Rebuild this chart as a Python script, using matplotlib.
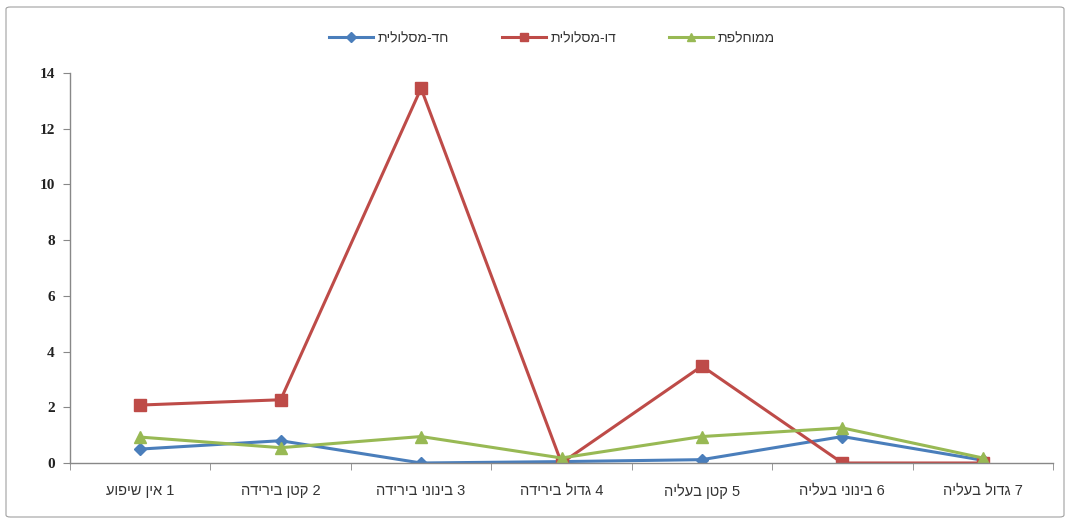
import numpy as np
import matplotlib.pyplot as plt
from matplotlib.patches import FancyBboxPatch

# category labels (logical order, Hebrew)
categories = ['1 אין שיפוע', '2 קטן בירידה', '3 בינוני בירידה', '4 גדול בירידה',
              '5 קטן בעליה', '6 בינוני בעליה', '7 גדול בעליה']
series_names = ['חד-מסלולית', 'דו-מסלולית', 'ממוחלפת']

single_lane = [0.5, 0.8, 0.0, 0.05, 0.12, 0.95, 0.1]
double_lane = [2.08, 2.27, 13.45, 0.0, 3.48, 0.0, 0.0]
alternating = [0.93, 0.55, 0.95, 0.18, 0.95, 1.26, 0.18]

yticks = [0, 2, 4, 6, 8, 10, 12, 14]


def rtl(s):
    # matplotlib has no bidi support, so flip the Hebrew text to visual order
    return s[::-1]


plt.rcParams['font.family'] = ['Liberation Sans', 'DejaVu Sans']

fig = plt.figure(figsize=(10.7, 5.23), dpi=100)
ax = fig.add_axes([70 / 1070, 1 - 463 / 523, 983 / 1070, 390 / 523])

# outer chart border
border = FancyBboxPatch((6 / 1070, 6 / 523), 1058 / 1070, 510 / 523,
                        boxstyle='round,pad=0,rounding_size=0.004',
                        transform=fig.transFigure, fill=False,
                        edgecolor='#a0a0a0', linewidth=0.8)
fig.patches.append(border)

x = np.arange(len(categories))
ax.plot(x, single_lane, color='#4A7EBB', marker='D', markersize=6.5, linewidth=2.2,
        label=rtl(series_names[0]))
ax.plot(x, double_lane, color='#BE4B48', marker='s', markersize=8, linewidth=2.2,
        label=rtl(series_names[1]))
ax.plot(x, alternating, color='#98B954', marker='^', markersize=8, linewidth=2.2,
        label=rtl(series_names[2]))

ax.set_xlim(-0.5, len(categories) - 0.5)
ax.set_ylim(0, 14)

ax.set_yticks(yticks)
ax.set_yticklabels([str(v) for v in yticks], fontfamily='Liberation Serif',
                   fontweight='bold', fontsize=11, color='#222222')

# category labels centered, ticks at category boundaries (excel style)
ax.set_xticks(x)
ax.set_xticklabels([rtl(c) for c in categories], fontsize=10.5, color='#333333')
ax.set_xticks(np.arange(-0.5, len(categories)), minor=True)
ax.tick_params(axis='x', which='major', length=0, pad=15)
ax.tick_params(axis='x', which='minor', length=5, color='#888888')
ax.tick_params(axis='y', length=5, color='#888888', pad=6)

for side in ['top', 'right']:
    ax.spines[side].set_visible(False)
for side in ['left', 'bottom']:
    ax.spines[side].set_color('#888888')
    ax.spines[side].set_linewidth(1.0)

leg = ax.legend(loc='center', bbox_to_anchor=(0.49, (523 - 38 - 60) / 390),
                ncol=3, frameon=False, fontsize=10, handlelength=3.2,
                columnspacing=3.8, handletextpad=0.3, markerscale=0.8)
for t in leg.get_texts():
    t.set_color('#333333')

fig.savefig('out.png', dpi=100)
